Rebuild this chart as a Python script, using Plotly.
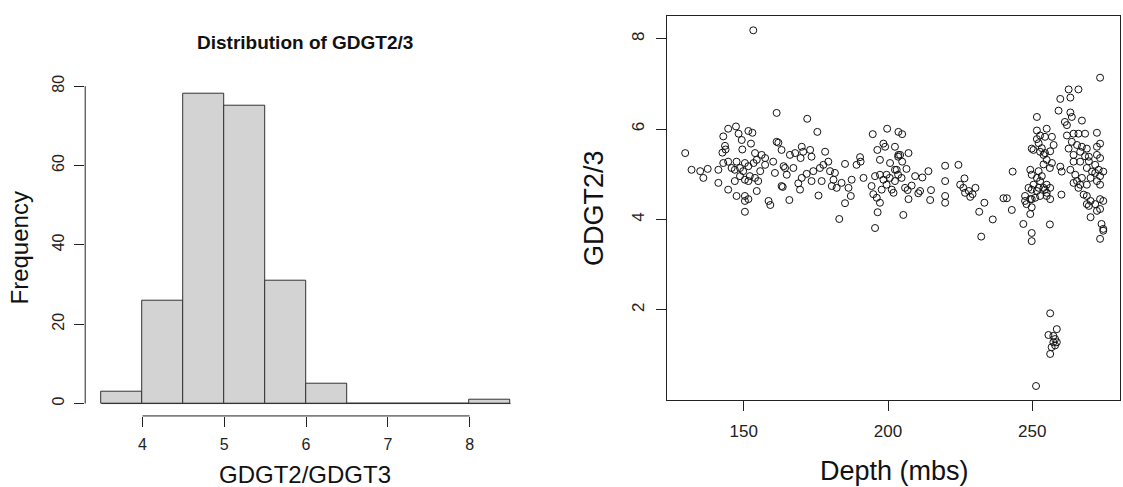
import plotly.graph_objects as go

# ---- histogram of GDGT2/GDGT3 ----
bin_edges = [3.5, 4.0, 4.5, 5.0, 5.5, 6.0, 6.5, 7.0, 7.5, 8.0, 8.5]
bin_counts = [3, 26, 78, 75, 31, 5, 0, 0, 0, 1]
hist_xticks = [4, 5, 6, 7, 8]
hist_yticks = [0, 20, 40, 60, 80]

# ---- GDGT2/3 against depth ----
depth_mbs = [
    129.7, 131.9, 134.9, 137.5, 136.0, 141.2, 141.2, 144.6, 147.3, 142.9,
    148.2, 151.6, 153.0, 143.5, 143.7, 142.6, 149.3, 152.5, 149.5, 153.9,
    156.2, 157.4, 161.4, 162.0, 163.1, 160.2, 160.8, 163.1, 142.9, 144.6,
    145.8, 147.5, 146.9, 148.7, 149.8, 150.4, 151.6, 153.4, 154.5, 155.7,
    152.1, 150.4, 151.6, 153.9, 155.0, 154.5, 144.6, 147.5, 150.4, 151.6,
    150.4, 150.4, 158.6, 159.2, 146.9, 148.7, 157.4, 163.8, 161.4, 153.3,
    172.0, 175.5, 194.7, 199.7, 203.6, 166.0, 167.8, 170.1, 170.6, 173.0,
    173.5, 169.7, 178.2, 179.3, 177.6, 176.4, 174.1, 171.8, 170.1, 168.9,
    169.5, 173.5, 164.3, 167.2, 164.9, 163.5, 165.8, 175.9, 177.0, 179.9,
    181.6, 181.1, 180.5, 182.2, 183.9, 185.1, 187.4, 186.3, 187.1, 185.1,
    183.1, 190.3, 190.5, 189.1, 191.5, 195.5, 194.3, 194.9, 196.1, 197.2,
    196.4, 195.5, 196.3, 197.2, 198.4, 199.0, 200.7, 202.4, 198.4, 199.5,
    201.3, 197.8, 202.4, 203.6, 201.9, 199.5, 200.6, 197.2,
    204.9, 202.4, 204.2, 203.5, 207.1, 204.9, 206.4, 203.0, 203.5, 204.7,
    209.4, 211.9, 214.0, 208.2, 205.9, 206.8, 211.1, 210.5, 214.9, 207.1,
    214.6, 205.3, 219.8, 224.4, 219.8, 226.5, 219.8, 219.8, 225.0, 226.1,
    226.7, 228.0, 230.3, 229.3, 228.5, 233.4, 231.6, 236.3, 232.3, 240.0,
    241.2, 242.9, 243.2, 246.9, 249.8, 249.8, 256.1,
    251.6, 251.6, 252.7, 255.0, 254.4, 256.8, 257.4, 249.8, 252.7, 253.9,
    255.0, 256.8, 256.1, 249.3, 249.8, 251.6, 250.4, 252.7, 251.6, 253.9,
    255.0, 252.7, 251.0, 249.3, 247.5, 248.0, 249.8, 249.3,
    251.6, 252.2, 250.4, 253.3, 254.4, 256.2, 252.2, 253.9, 253.3, 248.7,
    249.8, 252.2, 255.0, 256.2, 254.4, 247.5, 249.8, 255.0, 256.2, 260.1,
    262.6, 266.0, 259.7, 263.2, 259.1, 263.2, 261.3, 263.7, 267.2, 262.0,
    264.3, 266.0, 268.3, 272.4, 273.5, 272.4, 263.7, 265.5, 267.2, 268.9,
    262.6, 264.3, 266.6, 269.6, 272.4, 273.5, 271.8, 273.0, 274.6, 270.7,
    268.9, 266.6, 264.3, 263.2, 264.9, 267.2, 265.5, 266.6, 268.9, 270.2,
    271.8, 273.5, 272.4, 273.5, 268.9, 270.2, 271.8, 273.5, 274.6, 269.6,
    272.4, 273.5, 270.2, 274.0, 274.6, 273.5, 259.7, 260.2, 273.5,
    262.0, 268.3, 269.6, 264.3, 266.0, 267.8, 268.9, 274.6,
    256.2, 258.5, 255.6, 257.3, 257.9, 257.3, 258.5, 257.9, 256.7, 256.2,
    251.3,
]
gdgt23 = [
    5.47, 5.10, 5.07, 5.12, 4.92, 5.10, 4.81, 6.01, 6.06, 5.84,
    5.90, 5.96, 5.92, 5.63, 5.55, 5.48, 5.76, 5.68, 5.55, 5.47,
    5.43, 5.36, 5.72, 5.70, 5.54, 5.28, 5.03, 4.74, 5.25, 5.28,
    5.14, 5.28, 5.10, 5.14, 5.07, 5.25, 5.18, 5.25, 5.32, 5.07,
    4.96, 4.88, 4.85, 4.92, 4.85, 4.63, 4.66, 4.52, 4.52, 4.45,
    4.41, 4.17, 4.41, 4.32, 4.85, 4.96, 5.21, 5.18, 6.36, 8.19,
    6.23, 5.94, 5.89, 6.01, 5.94, 5.43, 5.47, 5.61, 5.50, 5.54,
    5.39, 5.36, 5.50, 5.28, 5.21, 5.14, 5.07, 5.01, 4.92, 4.80,
    4.66, 4.85, 5.14, 5.14, 4.99, 4.72, 4.43, 4.53, 4.85, 5.07,
    5.03, 4.88, 4.74, 4.70, 4.81, 5.23, 4.88, 4.70, 4.52, 4.36,
    4.01, 5.38, 5.28, 5.21, 4.92, 4.96, 4.74, 4.56, 4.48, 4.37,
    4.16, 3.81, 5.54, 5.32, 5.68, 5.61, 5.25, 5.10, 4.88, 4.77,
    4.66, 4.66, 4.85, 5.43, 4.59, 4.99, 4.92, 4.99,
    5.89, 5.61, 5.43, 5.39, 5.47, 5.28, 5.12, 5.10, 4.99, 4.92,
    4.96, 4.93, 5.07, 4.75, 4.70, 4.65, 4.63, 4.58, 4.65, 4.45,
    4.43, 4.10, 5.19, 5.21, 4.85, 4.91, 4.52, 4.37, 4.77, 4.70,
    4.59, 4.63, 4.70, 4.56, 4.50, 4.37, 4.17, 4.00, 3.62, 4.47,
    4.47, 4.21, 5.06, 3.90, 3.70, 3.52, 3.89,
    6.27, 5.97, 5.86, 6.01, 5.83, 5.83, 5.65, 5.57, 5.50, 5.43,
    5.32, 5.25, 5.14, 5.10, 4.99, 4.92, 4.77, 4.85, 4.63, 4.70,
    4.59, 4.52, 4.48, 4.45, 4.41, 4.34, 4.27, 4.12,
    5.78, 5.69, 5.54, 5.58, 5.47, 5.51, 5.07, 5.22, 4.96, 4.70,
    4.66, 4.70, 4.77, 4.70, 4.66, 4.52, 4.45, 4.52, 4.45, 4.55,
    6.88, 6.88, 6.67, 6.70, 6.41, 6.37, 6.16, 6.27, 6.19, 5.86,
    5.90, 5.90, 5.90, 5.92, 5.68, 5.61, 5.72, 5.65, 5.61, 5.57,
    5.57, 5.43, 5.50, 5.39, 5.43, 5.36, 5.21, 5.10, 5.06, 5.06,
    5.14, 5.28, 5.28, 5.10, 4.99, 4.92, 4.85, 4.77, 4.77, 4.92,
    5.03, 4.96, 4.85, 4.77, 4.52, 4.41, 4.34, 4.45, 4.41, 4.30,
    4.19, 4.23, 4.05, 3.90, 3.75, 3.57, 5.17, 5.06, 7.14,
    6.09, 5.40, 5.29, 4.81, 4.70, 4.55, 4.34, 3.79,
    1.92, 1.57, 1.44, 1.42, 1.35, 1.28, 1.28, 1.21, 1.17, 1.02,
    0.31,
]
scatter_xticks = [150, 200, 250]
scatter_yticks = [2, 4, 6, 8]

W, H = 1123, 487
FONT = "Liberation Sans, Arial, sans-serif"
INK = "#222222"

bin_centers = [(a + b) / 2 for a, b in zip(bin_edges[:-1], bin_edges[1:])]
bin_widths = [b - a for a, b in zip(bin_edges[:-1], bin_edges[1:])]

fig = go.Figure()

fig.add_trace(go.Bar(
    x=bin_centers, y=bin_counts, width=bin_widths,
    marker=dict(color="#D3D3D3", line=dict(color="#333333", width=1)),
    xaxis="x", yaxis="y", showlegend=False, hoverinfo="x+y",
))

fig.add_trace(go.Scatter(
    x=depth_mbs, y=gdgt23, mode="markers",
    marker=dict(symbol="circle-open", size=7, color="#111111",
                line=dict(width=1, color="#111111")),
    xaxis="x2", yaxis="y2", showlegend=False,
))

def px_x(p):
    return p / W

def px_y(p):
    return 1 - p / H

# plot regions (pixels)
h_left, h_right, h_top, h_bottom = 85.2, 526.9, 75.8, 414.9
s_left, s_right, s_top, s_bottom = 667.3, 1120.0, 9.0, 398.5

axis_common = dict(showgrid=False, zeroline=False, ticks="outside",
                   tickcolor=INK, ticklen=10, tickwidth=1)

fig.update_layout(
    width=W, height=H,
    margin=dict(l=0, r=0, t=0, b=0),
    paper_bgcolor="white", plot_bgcolor="white",
    bargap=0,
    xaxis=dict(domain=[px_x(h_left), px_x(h_right)], range=[3.3, 8.7],
               tickvals=hist_xticks, showline=False, anchor="y",
               ticklabelstandoff=4,
               tickfont=dict(family=FONT, color=INK, size=16), **axis_common),
    yaxis=dict(domain=[px_y(h_bottom), px_y(h_top)], range=[-3.12, 81.12],
               tickvals=hist_yticks, tickangle=-90, showline=False, anchor="x",
               ticklabelstandoff=4,
               tickfont=dict(family=FONT, color=INK, size=16), **axis_common),
    xaxis2=dict(domain=[px_x(s_left), px_x(s_right)], range=[123.5, 280.4],
                tickvals=scatter_xticks, showline=True, mirror=True,
                linecolor=INK, linewidth=1, anchor="y2",
                ticklabelstandoff=6,
                tickfont=dict(family=FONT, color=INK, size=17), **axis_common),
    yaxis2=dict(domain=[px_y(s_bottom), px_y(s_top)], range=[0.005, 8.51],
                tickvals=scatter_yticks, tickangle=-90, showline=True, mirror=True,
                linecolor=INK, linewidth=1, anchor="x2",
                ticklabelstandoff=6,
                tickfont=dict(family=FONT, color=INK, size=17), **axis_common),
)

# detached axis lines of the histogram, spanning first to last tick
fig.add_shape(type="line", xref="x", yref="paper",
              x0=hist_xticks[0], x1=hist_xticks[-1],
              y0=px_y(h_bottom), y1=px_y(h_bottom),
              line=dict(color=INK, width=1))
fig.add_shape(type="line", xref="paper", yref="y",
              x0=px_x(h_left), x1=px_x(h_left),
              y0=hist_yticks[0], y1=hist_yticks[-1],
              line=dict(color=INK, width=1))
# baseline under the (possibly empty) bins
fig.add_shape(type="line", xref="x", yref="y",
              x0=bin_edges[0], x1=bin_edges[-1], y0=0, y1=0,
              line=dict(color="#333333", width=1))

def label(text, x, y, size, angle=0, bold=False):
    fig.add_annotation(
        text=f"<b>{text}</b>" if bold else text,
        xref="paper", yref="paper", x=px_x(x), y=px_y(y),
        xanchor="center", yanchor="middle", showarrow=False,
        textangle=angle, font=dict(family=FONT, size=size, color="#111111"),
    )

label("Distribution of GDGT2/3", 305, 36, 19, bold=True)
label("Frequency", 19, 245, 24, angle=-90)
label("GDGT2/GDGT3", 305, 474, 24)
label("GDGT2/3", 594, 204, 27, angle=-90)
label("Depth (mbs)", 894, 471, 27)

fig.write_html("out.html")
